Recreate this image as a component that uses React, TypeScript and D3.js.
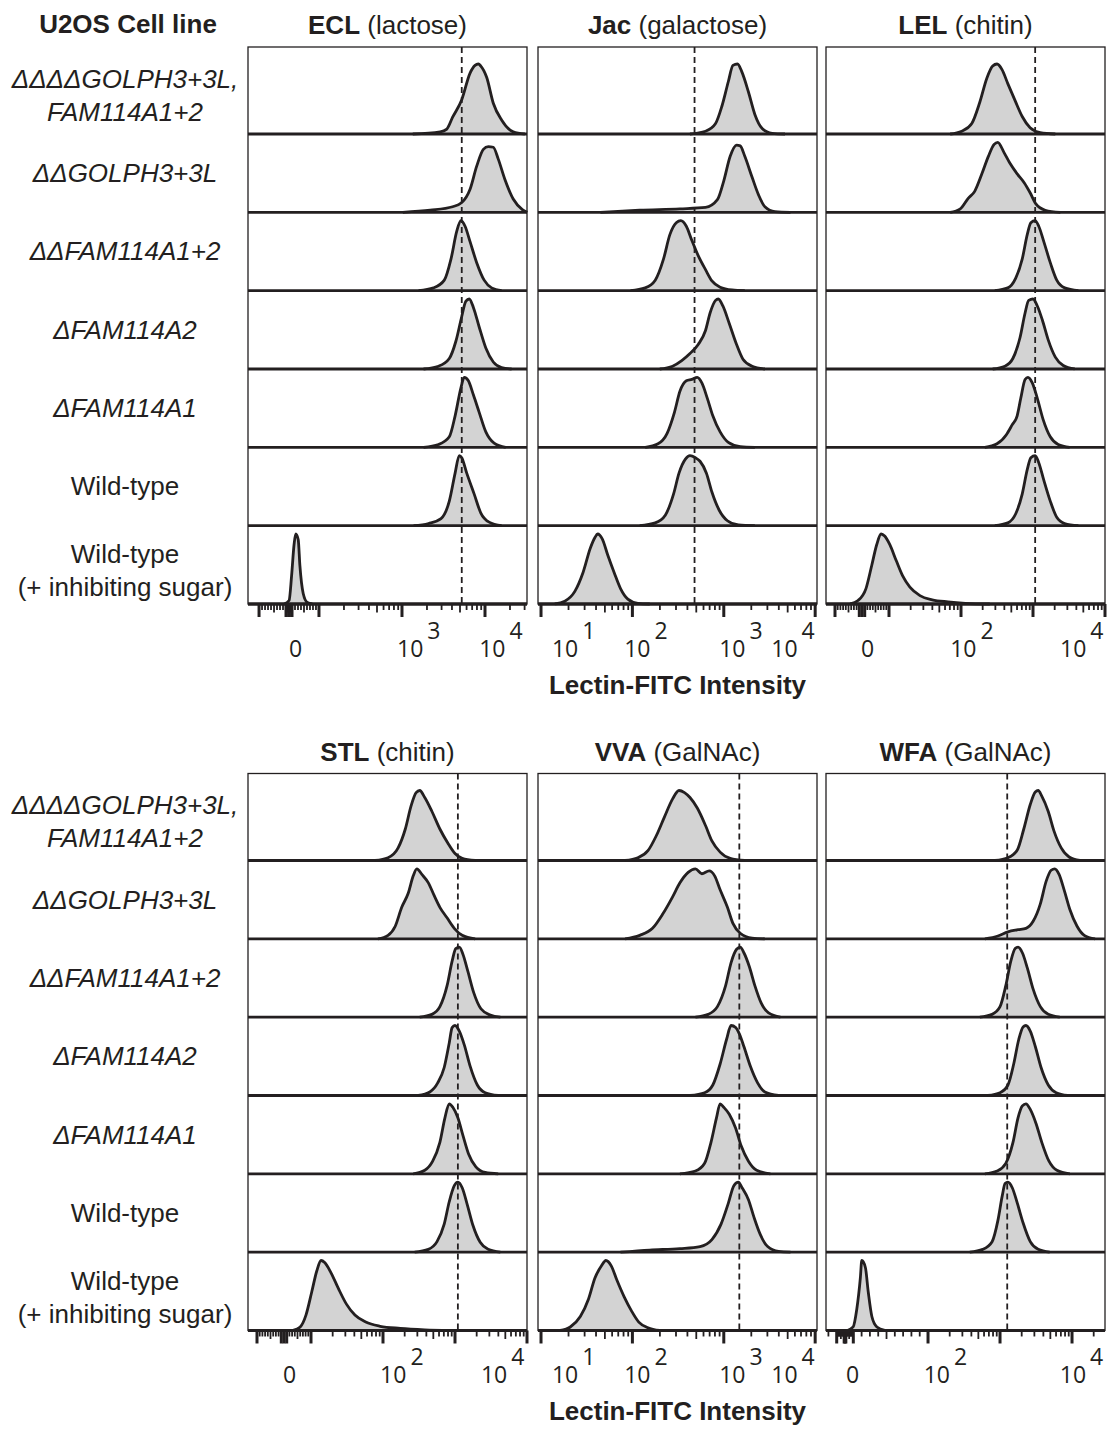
import React from "react";
import * as d3 from "d3";

// ---------------- data ----------------
// x values are in display units of the biexponential axis (log10-like), y = % of mode
type Pt = [number, number];

const cellLines = [
  ["ΔΔΔΔGOLPH3+3L,", "FAM114A1+2"],
  ["ΔΔGOLPH3+3L"],
  ["ΔΔFAM114A1+2"],
  ["ΔFAM114A2"],
  ["ΔFAM114A1"],
  ["Wild-type"],
  ["Wild-type", "(+ inhibiting sugar)"],
];
const cellLineItalic = [true, true, true, true, true, false, false];

const lectins = ["ECL", "Jac", "LEL", "STL", "VVA", "WFA"];
const sugars = ["(lactose)", "(galactose)", "(chitin)", "(chitin)", "(GalNAc)", "(GalNAc)"];

const eclCurves: Pt[][] = [
  [[3.13,0],[3.46,3],[3.54,7],[3.61,24],[3.72,49],[3.82,87],[3.88,98],[3.92,100],[3.95,97],[4.02,81],[4.10,44],[4.20,20],[4.34,3],[4.48,0]],
  [[3.01,0],[3.34,3],[3.61,8],[3.72,14],[3.82,33],[3.90,66],[3.98,90],[4.04,94],[4.10,93],[4.16,76],[4.24,47],[4.34,19],[4.45,4],[4.51,0]],
  [[3.20,0],[3.38,4],[3.51,15],[3.59,45],[3.66,85],[3.71,100],[3.76,92],[3.82,70],[3.90,40],[3.99,15],[4.08,4],[4.20,0]],
  [[3.26,0],[3.44,4],[3.57,15],[3.65,40],[3.72,75],[3.77,97],[3.81,100],[3.86,88],[3.93,60],[4.01,30],[4.10,10],[4.20,2],[4.32,0]],
  [[3.26,0],[3.44,4],[3.57,15],[3.64,45],[3.71,85],[3.75,100],[3.80,95],[3.86,75],[3.93,50],[4.01,22],[4.11,6],[4.25,0]],
  [[3.14,0],[3.32,3],[3.47,10],[3.57,35],[3.64,75],[3.69,100],[3.72,97],[3.78,75],[3.87,45],[3.95,18],[4.05,5],[4.20,0]],
  [[1.58,0],[1.64,5],[1.67,40],[1.70,85],[1.72,100],[1.75,92],[1.77,55],[1.81,15],[1.86,2],[1.92,0]],
];

const jacCurves: Pt[][] = [
  [[2.63,0],[2.80,4],[2.91,15],[2.98,40],[3.05,75],[3.10,98],[3.15,100],[3.20,88],[3.27,60],[3.34,28],[3.42,8],[3.53,1],[3.67,0]],
  [[1.65,0],[2.08,3],[2.52,5],[2.80,7],[2.93,18],[3.00,45],[3.07,80],[3.14,96],[3.18,95],[3.23,80],[3.31,50],[3.38,25],[3.45,8],[3.56,1],[3.73,0]],
  [[1.98,0],[2.14,4],[2.25,15],[2.34,45],[2.41,80],[2.48,97],[2.53,100],[2.59,92],[2.65,72],[2.72,50],[2.80,30],[2.87,14],[2.96,5],[3.09,1],[3.23,0]],
  [[2.30,0],[2.44,4],[2.54,12],[2.63,22],[2.72,35],[2.80,55],[2.85,80],[2.91,98],[2.94,100],[2.99,90],[3.06,65],[3.14,35],[3.21,14],[3.31,4],[3.45,0]],
  [[2.14,0],[2.28,5],[2.38,20],[2.46,50],[2.52,80],[2.59,95],[2.65,97],[2.71,100],[2.76,92],[2.82,70],[2.88,45],[2.96,22],[3.05,7],[3.18,1],[3.34,0]],
  [[2.08,0],[2.25,4],[2.36,15],[2.45,45],[2.51,75],[2.58,95],[2.63,100],[2.69,97],[2.74,92],[2.81,75],[2.87,48],[2.95,22],[3.04,7],[3.16,1],[3.34,0]],
  [[1.15,0],[1.26,4],[1.37,18],[1.46,45],[1.54,80],[1.59,95],[1.62,100],[1.67,93],[1.73,70],[1.80,45],[1.87,22],[1.95,7],[2.06,1],[2.19,0]],
];

const lelCurves: Pt[][] = [
  [[1.85,0],[2.01,4],[2.15,15],[2.26,45],[2.36,80],[2.44,97],[2.50,100],[2.57,92],[2.65,72],[2.75,48],[2.85,25],[2.96,9],[3.10,2],[3.31,0]],
  [[1.85,0],[1.99,5],[2.10,20],[2.19,30],[2.29,55],[2.38,80],[2.46,97],[2.51,100],[2.60,85],[2.68,70],[2.78,55],[2.88,42],[2.96,28],[3.04,12],[3.17,3],[3.38,0]],
  [[2.47,0],[2.65,4],[2.76,18],[2.85,45],[2.92,80],[2.97,97],[3.03,100],[3.08,92],[3.15,70],[3.24,40],[3.33,15],[3.44,4],[3.63,0]],
  [[2.44,0],[2.61,4],[2.72,15],[2.82,45],[2.89,80],[2.94,98],[3.00,100],[3.06,90],[3.13,70],[3.21,42],[3.31,17],[3.42,5],[3.58,0]],
  [[2.33,0],[2.50,5],[2.63,18],[2.71,32],[2.78,45],[2.83,70],[2.89,97],[2.93,100],[2.99,92],[3.06,70],[3.14,40],[3.24,15],[3.35,4],[3.51,0]],
  [[2.47,0],[2.65,4],[2.76,17],[2.85,45],[2.92,80],[2.97,97],[3.03,100],[3.08,90],[3.15,65],[3.24,35],[3.33,12],[3.44,3],[3.63,0]],
  [[0.46,0],[0.57,5],[0.68,22],[0.76,55],[0.83,85],[0.89,100],[0.94,97],[1.01,85],[1.10,62],[1.19,40],[1.29,24],[1.43,12],[1.60,6],[1.82,3],[2.06,1],[2.40,0]],
];

const stlCurves: Pt[][] = [
  [[1.89,0],[2.07,4],[2.21,18],[2.31,45],[2.39,78],[2.46,97],[2.51,100],[2.58,90],[2.68,70],[2.79,45],[2.90,25],[3.00,10],[3.10,3],[3.28,0]],
  [[1.93,0],[2.07,5],[2.17,18],[2.26,45],[2.35,65],[2.42,90],[2.47,100],[2.54,92],[2.63,80],[2.71,62],[2.79,45],[2.89,30],[2.99,15],[3.10,5],[3.28,0]],
  [[2.51,0],[2.68,4],[2.79,15],[2.89,45],[2.96,80],[3.01,98],[3.06,100],[3.11,90],[3.18,65],[3.26,35],[3.36,12],[3.49,3],[3.63,0]],
  [[2.49,0],[2.65,5],[2.76,18],[2.85,40],[2.92,75],[2.96,97],[3.00,100],[3.06,92],[3.13,72],[3.21,42],[3.31,15],[3.42,4],[3.60,0]],
  [[2.42,0],[2.58,5],[2.69,18],[2.79,45],[2.86,80],[2.92,100],[2.97,95],[3.04,80],[3.11,55],[3.19,28],[3.29,10],[3.42,2],[3.60,0]],
  [[2.44,0],[2.63,4],[2.75,15],[2.85,40],[2.92,72],[2.99,95],[3.04,100],[3.10,92],[3.17,68],[3.25,38],[3.35,14],[3.46,4],[3.63,0]],
  [[0.75,0],[0.85,5],[0.93,22],[1.01,55],[1.08,85],[1.14,100],[1.19,97],[1.28,82],[1.38,60],[1.49,38],[1.61,22],[1.76,12],[1.96,6],[2.24,3],[2.58,1],[2.93,0]],
];

const vvaCurves: Pt[][] = [
  [[1.92,0],[2.06,4],[2.17,14],[2.26,35],[2.35,62],[2.44,88],[2.51,100],[2.57,97],[2.63,90],[2.71,75],[2.80,50],[2.87,28],[2.96,12],[3.07,3],[3.23,0]],
  [[1.92,0],[2.08,5],[2.22,15],[2.33,35],[2.44,60],[2.52,80],[2.61,95],[2.69,100],[2.76,93],[2.84,97],[2.90,90],[2.96,70],[3.04,45],[3.10,22],[3.18,8],[3.31,1],[3.45,0]],
  [[2.69,0],[2.83,4],[2.93,15],[3.02,45],[3.08,78],[3.14,97],[3.18,100],[3.22,92],[3.28,72],[3.34,45],[3.41,20],[3.49,6],[3.62,0]],
  [[2.63,0],[2.79,4],[2.88,15],[2.96,45],[3.03,80],[3.08,100],[3.13,97],[3.17,88],[3.22,70],[3.29,42],[3.37,18],[3.45,5],[3.60,0]],
  [[2.52,0],[2.69,4],[2.79,15],[2.86,45],[2.92,80],[2.96,100],[3.00,95],[3.06,85],[3.13,65],[3.19,40],[3.27,18],[3.36,5],[3.51,0]],
  [[1.87,0],[2.19,3],[2.52,5],[2.74,8],[2.87,18],[2.97,40],[3.05,70],[3.11,95],[3.16,100],[3.20,92],[3.27,75],[3.33,50],[3.40,25],[3.48,8],[3.60,1],[3.73,0]],
  [[1.21,0],[1.32,5],[1.43,20],[1.52,45],[1.59,75],[1.66,92],[1.71,100],[1.77,92],[1.83,72],[1.91,48],[1.99,28],[2.07,12],[2.17,4],[2.30,0]],
];

const wfaCurves: Pt[][] = [
  [[2.93,0],[3.11,4],[3.24,15],[3.33,45],[3.42,80],[3.49,98],[3.53,100],[3.58,92],[3.67,70],[3.75,42],[3.85,18],[3.96,5],[4.11,0]],
  [[2.79,0],[2.97,4],[3.11,10],[3.25,13],[3.36,15],[3.46,25],[3.56,50],[3.64,82],[3.71,98],[3.76,100],[3.82,92],[3.89,70],[3.97,42],[4.07,18],[4.17,5],[4.32,0]],
  [[2.72,0],[2.89,4],[3.00,15],[3.08,45],[3.15,80],[3.21,98],[3.25,100],[3.31,92],[3.38,70],[3.46,40],[3.56,15],[3.67,4],[3.83,0]],
  [[2.83,0],[3.00,4],[3.11,15],[3.19,45],[3.26,80],[3.32,98],[3.36,100],[3.42,92],[3.49,70],[3.57,40],[3.67,15],[3.78,4],[3.94,0]],
  [[2.79,0],[2.96,4],[3.08,15],[3.18,45],[3.25,80],[3.31,97],[3.36,100],[3.42,92],[3.50,72],[3.58,45],[3.68,18],[3.79,5],[3.97,0]],
  [[2.58,0],[2.76,4],[2.89,15],[2.97,45],[3.03,80],[3.07,98],[3.11,100],[3.17,92],[3.24,70],[3.32,42],[3.42,15],[3.53,4],[3.69,0]],
  [[0.88,0],[0.96,5],[1.01,30],[1.06,75],[1.08,100],[1.13,90],[1.17,55],[1.22,20],[1.29,5],[1.40,0]],
];

// vertical reference (wild-type mode) in display units
const refLines = [3.72, 2.68, 3.03, 3.04, 3.17, 3.10];

// axis parameters: linear threshold T, display value of 0, visible display domain
type Axis = { T: number; d0: number; dom: [number, number] };
const eclAxis: Axis = { T: 100, d0: 1.639, dom: [1.145, 4.506] };
const jacAxis: Axis = { T: 1, d0: 0, dom: [0.967, 4.02] };
const lelAxis: Axis = { T: 10, d0: 0.625, dom: [0.125, 4.0] };
const wfaAxis: Axis = { T: 100, d0: 0.847, dom: [0.583, 4.458] };

type TickLabel = { base: string; exp?: string; at: number };
const eclTickLabels: TickLabel[] = [{ base: "0", at: 1.639 }, { base: "10", exp: "3", at: 2.94 }, { base: "10", exp: "4", at: 3.93 }];
const jacTickLabels: TickLabel[] = [{ base: "10", exp: "1", at: 1.12 }, { base: "10", exp: "2", at: 1.91 }, { base: "10", exp: "3", at: 2.95 }, { base: "10", exp: "4", at: 3.52 }];
const lelTickLabels: TickLabel[] = [{ base: "0", at: 0.61 }, { base: "10", exp: "2", at: 1.85 }, { base: "10", exp: "4", at: 3.375 }];
const stlTickLabels: TickLabel[] = [{ base: "0", at: 0.61 }, { base: "10", exp: "2", at: 1.96 }, { base: "10", exp: "4", at: 3.36 }];
const wfaTickLabels: TickLabel[] = [{ base: "0", at: 0.86 }, { base: "10", exp: "2", at: 1.94 }, { base: "10", exp: "4", at: 3.83 }];

const xTitle = "Lectin-FITC Intensity";
const rowHeader = "U2OS Cell line";

// ---------------- layout ----------------
const W = 1110, H = 1430;
const PW = 279;
const lefts = [248, 538, 826];
const groupTops = [47, 773.5];
const FIRST = 87, PITCH = 78.33, PEAK = 70;
const INK = "#231f20";

const panels = [
  { curves: eclCurves, axis: eclAxis, labels: eclTickLabels },
  { curves: jacCurves, axis: jacAxis, labels: jacTickLabels },
  { curves: lelCurves, axis: lelAxis, labels: lelTickLabels },
  { curves: stlCurves, axis: lelAxis, labels: stlTickLabels },
  { curves: vvaCurves, axis: jacAxis, labels: jacTickLabels },
  { curves: wfaCurves, axis: wfaAxis, labels: wfaTickLabels },
];

function disp(v: number, ax: Axis) {
  const lt = Math.log10(ax.T);
  if (v >= ax.T) return Math.log10(v);
  if (v <= -ax.T) return 2 * ax.d0 - Math.log10(-v);
  return ax.d0 + ((lt - ax.d0) * v) / ax.T;
}

function ticks(ax: Axis) {
  const out: { d: number; kind: number }[] = [{ d: disp(0, ax), kind: 2 }];
  for (let n = 0; n <= 5; n++)
    for (let k = 1; k <= 9; k++) {
      const v = k * Math.pow(10, n);
      const kind = k === 1 ? 2 : k === 5 ? 1 : 0;
      out.push({ d: disp(v, ax), kind });
      out.push({ d: disp(-v, ax), kind });
    }
  return out.filter((t) => t.d >= ax.dom[0] - 1e-6 && t.d <= ax.dom[1] + 1e-6);
}

function Panel({ idx }: { idx: number }) {
  const p = panels[idx];
  const g = Math.floor(idx / 3);
  const left = lefts[idx % 3];
  const top = groupTops[g];
  const axisY = top + FIRST + 6 * PITCH;
  const x = d3.scaleLinear().domain(p.axis.dom).range([left, left + PW]);
  const tks = ticks(p.axis);
  return (
    <g>
      <text x={left + PW / 2} y={top - 13} textAnchor="middle" fontSize={26} fill={INK} fontFamily="'Liberation Sans', Arial, sans-serif">
        <tspan fontWeight="bold">{lectins[idx]}</tspan>
        <tspan> {sugars[idx]}</tspan>
      </text>
      <rect x={left} y={top} width={PW} height={axisY - top} fill="white" stroke={INK} strokeWidth={1.3} />
      {p.curves.map((pts, i) => {
        const base = top + FIRST + i * PITCH;
        const y = d3.scaleLinear().domain([0, 100]).range([base, base - PEAK]);
        const area = d3.area<Pt>().x((q) => x(q[0])).y0(base).y1((q) => y(q[1])).curve(d3.curveMonotoneX);
        const line = d3.line<Pt>().x((q) => x(q[0])).y((q) => y(q[1])).curve(d3.curveMonotoneX);
        return (
          <g key={i}>
            <path d={area(pts) || ""} fill="#d3d3d3" />
            <line x1={left} x2={left + PW} y1={base} y2={base} stroke={INK} strokeWidth={2.8} />
            <path d={line(pts) || ""} fill="none" stroke={INK} strokeWidth={2.8} strokeLinejoin="round" />
          </g>
        );
      })}
      <line x1={x(refLines[idx])} x2={x(refLines[idx])} y1={top} y2={axisY} stroke={INK} strokeWidth={1.8} strokeDasharray="6,4" />
      {tks.map((t, i) => (
        <line key={i} x1={x(t.d)} x2={x(t.d)} y1={axisY} y2={axisY + (t.kind === 2 ? 13 : t.kind === 1 ? 8.5 : 6)} stroke={INK} strokeWidth={t.kind === 2 ? 3 : 1.8} />
      ))}
      <line x1={left} x2={left + PW} y1={axisY} y2={axisY} stroke={INK} strokeWidth={2.8} />
      {p.labels.map((l, i) => (
        <text key={i} x={x(l.at)} y={axisY + 53} fontSize={23} fill={INK} fontFamily="'Open Sans', sans-serif">
          {l.base}
          {l.exp ? <tspan dx={4} dy={-18}>{l.exp}</tspan> : null}
        </text>
      ))}
      {idx % 3 === 1 ? (
        <text x={left + PW / 2} y={axisY + 90} textAnchor="middle" fontSize={26} fontWeight="bold" fill={INK} fontFamily="'Liberation Sans', Arial, sans-serif">
          {xTitle}
        </text>
      ) : null}
    </g>
  );
}

function RowLabels({ g }: { g: number }) {
  const top = groupTops[g];
  return (
    <g fontFamily="'Liberation Sans', Arial, sans-serif" fontSize={26} fill={INK} textAnchor="middle">
      {cellLines.map((lines, i) => {
        const base = top + FIRST + i * PITCH;
        const center = i === 0 ? top + 48 : i === 6 ? base - PITCH / 2 + 6 : base - PITCH / 2;
        const gap = 33;
        return lines.map((s, j) => (
          <text key={i + "-" + j} x={125} y={center + 9 + (j - (lines.length - 1) / 2) * gap} fontStyle={cellLineItalic[i] ? "italic" : "normal"}>
            {s}
          </text>
        ));
      })}
    </g>
  );
}

export default function App() {
  return (
    <svg width={W} height={H} style={{ position: "absolute", left: 0, top: 0, background: "white" }}>
      <rect width={W} height={H} fill="white" />
      <text x={128} y={33} textAnchor="middle" fontSize={26} fontWeight="bold" fill={INK} fontFamily="'Liberation Sans', Arial, sans-serif">
        {rowHeader}
      </text>
      <RowLabels g={0} />
      <RowLabels g={1} />
      {panels.map((_, i) => (
        <Panel key={i} idx={i} />
      ))}
    </svg>
  );
}
